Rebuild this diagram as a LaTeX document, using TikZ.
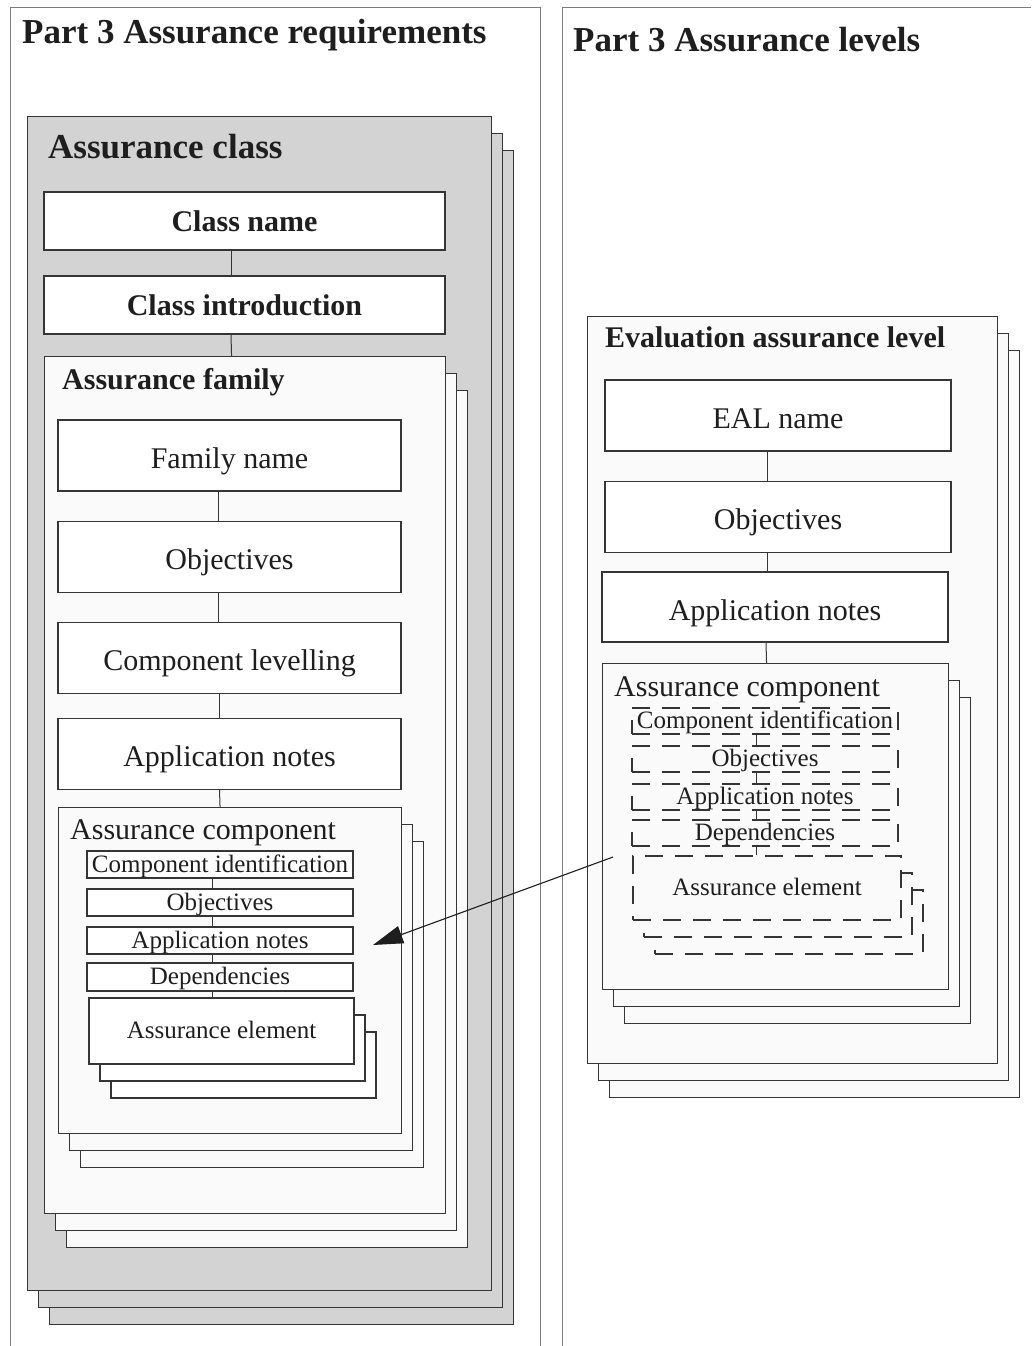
\documentclass[tikz,border=0pt]{standalone}
\usepackage{fontspec}
\setmainfont{Liberation Serif}
\usetikzlibrary{positioning, shadows, arrows.meta}

\definecolor{classgray}{HTML}{D3D3D3}
\definecolor{paper}{HTML}{FAFAFA}
\definecolor{linegray}{HTML}{353535}
\definecolor{framegray}{HTML}{7A7A7A}
\definecolor{ink}{HTML}{1E1E1E}

\newcommand{\partfont}{\fontsize{35}{42}\selectfont\bfseries}
\newcommand{\headbf}{\fontsize{30}{36}\selectfont\bfseries}
\newcommand{\boxrm}{\fontsize{30}{36}\selectfont}
\newcommand{\itemrm}{\fontsize{25}{30}\selectfont}

% two copies behind a box, each shifted down and right
\tikzset{stack/.style={
  general shadow={shadow xshift=22pt, shadow yshift=-34pt, draw=linegray, fill=#1},
  general shadow={shadow xshift=11pt, shadow yshift=-17pt, draw=linegray, fill=#1}}}

\tikzstyle{panel} = [draw=framegray, line width=1pt]
\tikzstyle{container} = [rectangle, draw=linegray, line width=1.1pt, anchor=north west, inner sep=0pt]
\tikzstyle{heading} = [anchor=west, inner sep=0pt, text=ink]
\tikzstyle{namebox} = [rectangle, draw=linegray, line width=1.1pt, fill=white, minimum width=401pt, minimum height=58pt, text=ink, font=\headbf]
\tikzstyle{process} = [rectangle, draw=linegray, line width=1.1pt, fill=white, minimum width=343pt, minimum height=71pt, text height=26pt, text depth=0pt, text=ink, font=\boxrm]
\tikzstyle{item} = [rectangle, draw=linegray, line width=1.1pt, fill=white, minimum width=266pt, minimum height=27pt, inner sep=0pt, text height=15pt, text depth=0pt, text=ink, font=\itemrm]
\tikzstyle{dashitem} = [item, fill=paper, dash pattern=on 18pt off 12pt]
\tikzstyle{link} = [draw=linegray, line width=1pt]
\tikzstyle{arrow} = [draw=ink, line width=1.1pt, -{Triangle[length=30pt,width=18pt]}]

\begin{document}
\begin{tikzpicture}[x=1pt, y=-1pt]

    \useasboundingbox (0,0) rectangle (1031,1346);
    \fill [white] (0,0) rectangle (1031,1346);

    % the two parts
    \draw [panel] (10,1346) -- (10,8) -- (540,8) -- (540,1346);
    \draw [panel] (562,1346) -- (562,8) -- (1031,8);
    \node (reqtitle) [heading, anchor=base west, font=\partfont] at (22,44) {Part 3 Assurance requirements};
    \node (lvltitle) [heading, anchor=base west, font=\partfont] at (573,52) {Part 3 Assurance levels};

    % left: assurance class
    \node (class) [container, fill=classgray, stack=classgray, minimum width=464pt, minimum height=1174pt] at (27,116) {};
    \node (classlabel) [heading, font=\partfont] at (48,147) {Assurance class};
    \node (classname) [namebox] at (244.5,221) {Class name};
    \node (classintro) [namebox] at (244.5,305) {Class introduction};

    \node (family) [container, fill=paper, stack=paper, minimum width=401pt, minimum height=857pt] at (44,356) {};
    \node (familylabel) [heading, font=\headbf] at (62,382) {Assurance family};
    \node (famname) [process] at (229.5,455.5) {Family name};
    \node (famobj) [process, below=29pt of famname] {Objectives};
    \node (famlev) [process, below=29pt of famobj] {Component levelling};
    \node (famapp) [process, below=24pt of famlev] {Application notes};

    \node (comp) [container, fill=paper, stack=paper, minimum width=343pt, minimum height=326pt] at (58,807) {};
    \node (complabel) [heading, font=\boxrm] at (70,833) {Assurance component};
    \node (cid) [item] at (220,864.5) {Component identification};
    \node (cobj) [item] at (220,902.5) {Objectives};
    \node (capp) [item] at (220,940.5) {Application notes};
    \node (cdep) [item, minimum height=28pt] at (220,977) {Dependencies};
    \node (celem) [item, stack=white, minimum width=265pt, minimum height=66pt] at (221.5,1031) {Assurance element};

    % right: evaluation assurance level
    \node (eal) [container, fill=paper, stack=paper, minimum width=410pt, minimum height=747pt] at (587,316) {};
    \node (eallabel) [heading, font=\headbf] at (605,337) {Evaluation assurance level};
    \node (ealname) [process, minimum width=346pt] at (778,415.5) {EAL name};
    \node (ealobj) [process, minimum width=346pt, below=29pt of ealname] {Objectives};
    \node (ealapp) [process, minimum width=346pt, minimum height=70pt] at (775,607) {Application notes};

    \node (rcomp) [container, fill=paper, stack=paper, minimum width=346pt, minimum height=326pt] at (602,663) {};
    \node (rcomplabel) [heading, font=\boxrm] at (614,690) {Assurance component};
    \node (rcid) [dashitem, minimum height=26pt] at (765,721) {Component identification};
    \node (robj) [dashitem, minimum height=26pt] at (765,759) {Objectives};
    \node (rapp) [dashitem, minimum height=26pt] at (765,797) {Application notes};
    \node (rdep) [dashitem, minimum height=26pt] at (765,833) {Dependencies};
    \node (relem) [dashitem, stack=paper, minimum width=268pt, minimum height=64pt] at (767,888) {Assurance element};

    % connectors
    \draw [link] ([xshift=-13.5pt]classname.south) -- ([xshift=-13.5pt]classintro.north);
    \draw [link] ([xshift=-13.5pt]classintro.south) -- ([xshift=-13.5pt]family.north);
    \draw [link] ([xshift=-11.5pt]famname.south) -- ([xshift=-11.5pt]famobj.north);
    \draw [link] ([xshift=-11.5pt]famobj.south) -- ([xshift=-11.5pt]famlev.north);
    \draw [link] ([xshift=-10pt]famlev.south) -- ([xshift=-10pt]famapp.north);
    \draw [link] ([xshift=-10pt]famapp.south) -- ([xshift=-10pt]comp.north);
    \draw [link] ([xshift=-8pt]cid.south) -- ([xshift=-8pt]cobj.north);
    \draw [link] ([xshift=-8pt]cobj.south) -- ([xshift=-8pt]capp.north);
    \draw [link] ([xshift=-8pt]capp.south) -- ([xshift=-8pt]cdep.north);
    \draw [link] ([xshift=-8pt]cdep.south) -- ([xshift=-8pt]cdep.south |- celem.north);

    \draw [link] ([xshift=-11pt]ealname.south) -- ([xshift=-11pt]ealobj.north);
    \draw [link] ([xshift=-11pt]ealobj.south) -- ([xshift=-11pt]ealobj.south |- ealapp.north);
    \draw [link] ([xshift=-9pt]ealapp.south) -- ([xshift=-9pt]rcomp.north);
    \draw [link] ([xshift=-8.5pt]rcid.south) -- ([xshift=-8.5pt]robj.north);
    \draw [link] ([xshift=-8.5pt]robj.south) -- ([xshift=-8.5pt]rapp.north);
    \draw [link] ([xshift=-8.5pt]rapp.south) -- ([xshift=-8.5pt]rdep.north);
    \draw [link] ([xshift=-8.5pt]rdep.south) -- ([xshift=-8.5pt]rdep.south |- relem.north);

    % level component refers to the requirement component
    \coordinate (refstart) at (613,857);
    \coordinate (refend) at (373,945);
    \draw [arrow] (refstart) -- (refend);

\end{tikzpicture}
\end{document}
